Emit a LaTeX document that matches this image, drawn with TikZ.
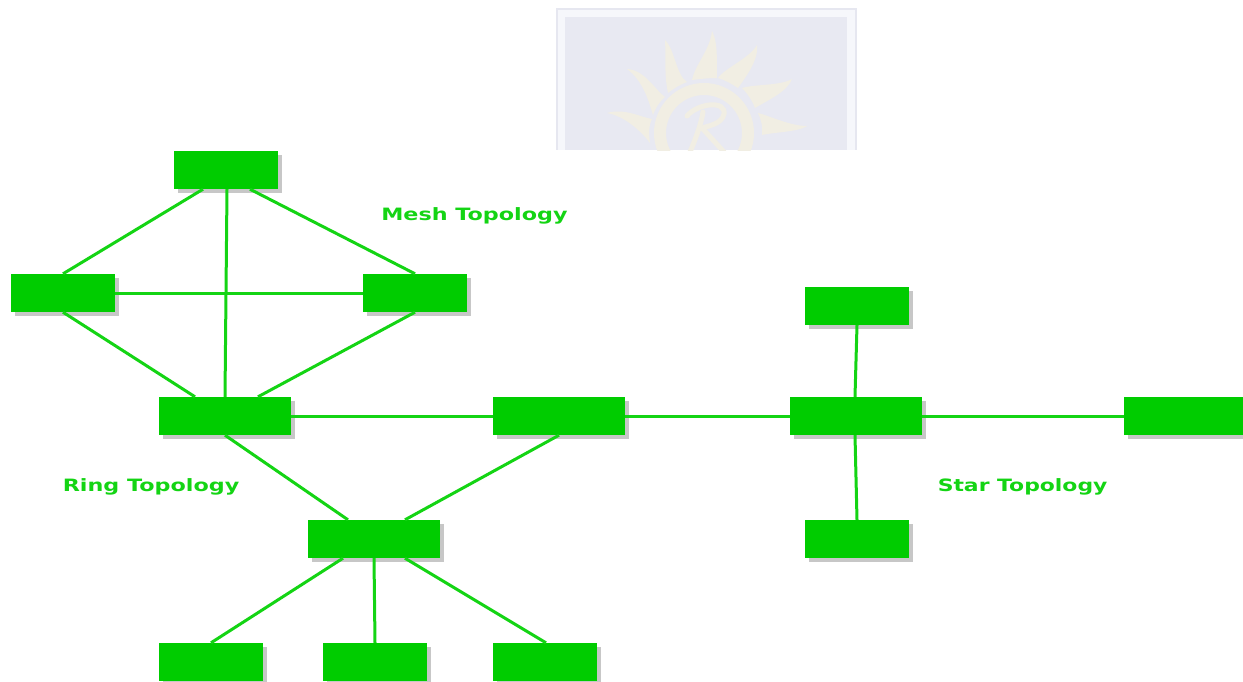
\documentclass[tikz,border=0pt]{standalone}
\usepackage{fontspec}
\setmainfont{DejaVu Sans}
\usetikzlibrary{shadows,calc}
\definecolor{netgreen}{HTML}{00CC00}
\definecolor{linkgreen}{HTML}{14D414}
\definecolor{wmbg}{HTML}{E8E9F2}
\definecolor{wmframe}{HTML}{F6F7FB}
\definecolor{wmedge}{HTML}{E6E7F0}
\definecolor{wmsun}{HTML}{F1EEE3}
\tikzset{
  box/.style={fill=netgreen,draw=none,inner sep=0pt,minimum height=38pt,
    drop shadow={shadow xshift=3.5pt,shadow yshift=-3.5pt,fill=black!22,opacity=1}},
  small/.style={box,minimum width=104pt},
  large/.style={box,minimum width=132pt},
  link/.style={draw=linkgreen,line width=3pt},
  topo/.style={text=linkgreen,font=\bfseries\fontsize{17}{19}\selectfont,inner sep=0pt,xscale=1.31,anchor=west},
  ray/.style={fill=wmsun,draw=none}
}
\begin{document}
\begin{tikzpicture}[x=1pt,y=-1pt]
\useasboundingbox (0,0) rectangle (1243,681);
\clip (0,0) rectangle (1243,681);
% faded watermark
\fill[wmedge] (556,8) rectangle (857,150);
\fill[wmframe] (558,10) rectangle (855,150);
\fill[wmbg] (565,17) rectangle (847,150);
\begin{scope}
\clip (565,17) rectangle (847,150);
\fill[ray] (607,113) .. controls (625,108) and (640,117) .. (652,119) .. controls (648,127) and (649,136) .. (650,143) .. controls (642,132) and (625,116) .. (607,113) -- cycle;
\fill[ray] (627,69) .. controls (645,70) and (655,90) .. (665,97) .. controls (659,102) and (655,109) .. (653,115) .. controls (648,98) and (642,80) .. (627,69) -- cycle;
\fill[ray] (665,40) .. controls (675,50) and (676,75) .. (687,82) .. controls (679,85) and (673,89) .. (668,93) .. controls (664,75) and (666,55) .. (665,40) -- cycle;
\fill[ray] (712,31) .. controls (719,45) and (716,65) .. (717,78) .. controls (708,78) and (700,79) .. (692,80) .. controls (695,65) and (710,50) .. (712,31) -- cycle;
\fill[ray] (757,45) .. controls (759,60) and (745,78) .. (738,88) .. controls (732,84) and (725,80) .. (718,78) .. controls (725,68) and (750,58) .. (757,45) -- cycle;
\fill[ray] (792,79) .. controls (787,92) and (768,100) .. (755,108) .. controls (752,100) and (747,93) .. (742,88) .. controls (755,84) and (780,86) .. (792,79) -- cycle;
\fill[ray] (807,126) .. controls (798,132) and (775,132) .. (762,135) .. controls (763,127) and (761,119) .. (758,113) .. controls (770,116) and (790,126) .. (807,126) -- cycle;
\draw[wmsun,line width=12pt] (704,133) circle (44);
\draw[wmsun,line width=5pt,line cap=round] (687,116) .. controls (698,103) and (726,100) .. (724,114) .. controls (722,124) and (708,126) .. (702,128);
\draw[wmsun,line width=5pt,line cap=round] (703,112) .. controls (701,125) and (695,140) .. (690,152);
\draw[wmsun,line width=5pt,line cap=round] (702,128) -- (724,152);
\end{scope}
% devices
\node[small] (top)   at (226,170) {};
\node[small] (left)  at (63,293) {};
\node[small] (right) at (415,293) {};
\node[large] (hubA)  at (225,416) {};
\node[large] (hubB)  at (559,416) {};
\node[large] (hubC)  at (856,416) {};
\node[small] (stN)   at (857,306) {};
\node[box,minimum width=119pt] (stE) at (1183.5,416) {};
\node[small] (stS)   at (857,539) {};
\node[large] (hubD)  at (374,539) {};
\node[small] (leafA) at (211,662) {};
\node[small] (leafB) at (375,662) {};
\node[small] (leafC) at (545,662) {};
% connectors
\draw[link] ($(top.south)+(-23,0)$) -- (left.north);
\draw[link] ($(top.south)+(1,0)$) -- ($(hubA.north)+(0,0)$);
\draw[link] ($(top.south)+(24,0)$) -- (right.north);
\draw[link] (left.east) -- (right.west);
\draw[link] (left.south) -- ($(hubA.north)+(-30,0)$);
\draw[link] (right.south) -- ($(hubA.north)+(33,0)$);
\draw[link] (hubA.east) -- (hubB.west);
\draw[link] (hubB.east) -- (hubC.west);
\draw[link] (hubC.east) -- (stE.west);
\draw[link] (stN.south) -- ($(hubC.north)+(-1,0)$);
\draw[link] ($(hubC.south)+(-1,0)$) -- (stS.north);
\draw[link] (hubA.south) -- ($(hubD.north)+(-26,0)$);
\draw[link] (hubB.south) -- ($(hubD.north)+(31,0)$);
\draw[link] ($(hubD.south)+(-31,0)$) -- (leafA.north);
\draw[link] (hubD.south) -- (leafB.north);
\draw[link] ($(hubD.south)+(31,0)$) -- ($(leafC.north)+(1,0)$);
% labels
\node[topo] (meshlabel) at (381,215.5) {Mesh Topology};
\node[topo] (ringlabel) at (62.5,486.5) {Ring Topology};
\node[topo,xscale=0.983] (starlabel) at (937.5,486.5) {Star Topology};
\end{tikzpicture}
\end{document}
